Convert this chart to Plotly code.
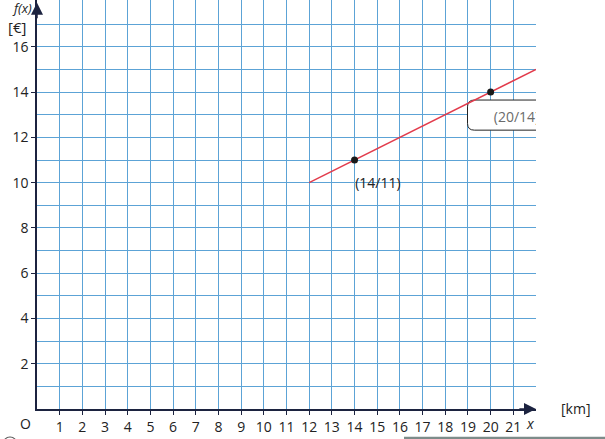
import plotly.graph_objects as go

# data
line_x = [12, 22]
line_y = [10, 15]
point_x = [14, 20]
point_y = [11, 14]
point_labels = ["(14/11)", "(20/14)"]
x_ticks = list(range(1, 22))
y_ticks_major = [2, 4, 6, 8, 10, 12, 14, 16]
y_ticks_minor = [1, 3, 5, 7, 9, 11, 13, 15, 17]

GRID = "rgb(92,163,214)"
AXIS = "#1c2340"
FONT = "Open Sans"

fig = go.Figure()

# red function line
fig.add_trace(go.Scatter(x=line_x, y=line_y, mode="lines",
                         line=dict(color="#e23a4b", width=1.5),
                         hoverinfo="skip", showlegend=False))
# points
fig.add_trace(go.Scatter(x=point_x, y=point_y, mode="markers",
                         marker=dict(color="#1a1a1a", size=7),
                         hoverinfo="skip", showlegend=False))
# label (14/11) below-right of its point
fig.add_trace(go.Scatter(x=[point_x[0] + 0.03], y=[point_y[0] - 1.09], mode="text",
                         text=[point_labels[0]], textposition="middle right",
                         textfont=dict(family=FONT, size=14, color="#222222"),
                         hoverinfo="skip", showlegend=False))
# label (20/14) inside the callout box (clipped by plot area)
fig.add_trace(go.Scatter(x=[point_x[1] + 0.14], y=[point_y[1] - 1.18], mode="text",
                         text=[point_labels[1]], textposition="middle right",
                         textfont=dict(family=FONT, size=14, color="#6b6b6b"),
                         cliponaxis=True, hoverinfo="skip", showlegend=False))

# callout box with rounded left corners (data coords, clipped)
x0, x1, y0, y1 = 18.98, 23.0, 12.32, 13.65
rx, ry = 0.3, 0.3
path = (f"M {x0+rx},{y1} L {x1},{y1} L {x1},{y0} L {x0+rx},{y0} "
        f"Q {x0},{y0} {x0},{y0+ry} L {x0},{y1-ry} Q {x0},{y1} {x0+rx},{y1} Z")
fig.add_shape(type="path", path=path, xref="x", yref="y", layer="between",
              fillcolor="white", line=dict(color="#222222", width=1))

# bottom gray decoration line
fig.add_shape(type="line", xref="paper", yref="paper",
              x0=(404 - 37) / 499, x1=(605 - 37) / 499,
              y0=(409 - 438) / 409, y1=(409 - 438) / 409,
              line=dict(color="#7d8c8a", width=2.5))
fig.add_shape(type="circle", xref="paper", yref="paper",
              x0=(3 - 37) / 499, x1=(17 - 37) / 499,
              y0=(409 - 451) / 409, y1=(409 - 437) / 409,
              line=dict(color="#555555", width=1.2))

annotations = [
    # axis arrows
    dict(x=22, y=0, ax=21.2, ay=0, xref="x", yref="y", axref="x", ayref="y",
         showarrow=True, arrowhead=2, arrowsize=1.6, arrowwidth=1.5,
         arrowcolor=AXIS, text=""),
    dict(x=0, y=17.95, ax=0, ay=17.2, xref="x", yref="y", axref="x", ayref="y",
         showarrow=True, arrowhead=2, arrowsize=1.6, arrowwidth=1.5,
         arrowcolor=AXIS, text=""),
    # labels
    dict(x=0, y=0, xref="x", yref="y", text="O", showarrow=False,
         xanchor="right", yanchor="middle", xshift=-4, yshift=-14,
         font=dict(family=FONT, size=14, color="#222222")),
    dict(x=0, y=17.72, xref="x", yref="y", text="<i>f(x)</i>", showarrow=False,
         xanchor="right", yanchor="middle", xshift=-3,
         font=dict(family=FONT, size=13, color="#222222")),
    dict(x=0, y=16.86, xref="x", yref="y", text="[€]", showarrow=False,
         xanchor="right", yanchor="middle", xshift=-9,
         font=dict(family=FONT, size=15, color="#222222")),
    dict(x=21.75, y=0, xref="x", yref="y", text="<i>x</i>", showarrow=False,
         xanchor="center", yanchor="middle", yshift=-14,
         font=dict(family=FONT, size=14, color="#222222")),
    dict(x=(575 - 37) / 499, y=0, xref="paper", yref="y", text="[km]", showarrow=False,
         xanchor="center", yanchor="middle", yshift=1,
         font=dict(family=FONT, size=14, color="#222222")),
]

fig.update_layout(
    width=605, height=439,
    margin=dict(l=37, r=69, t=0, b=30, pad=0),
    paper_bgcolor="white", plot_bgcolor="white",
    font=dict(family=FONT, size=14, color="#222222"),
    annotations=annotations,
    showlegend=False,
)
fig.update_xaxes(
    range=[0, 22], tickvals=x_ticks, ticktext=[str(v) for v in x_ticks],
    showgrid=True, gridcolor=GRID, gridwidth=1,
    ticks="outside", ticklen=4, tickcolor=AXIS, tickwidth=1,
    showline=True, linecolor=AXIS, linewidth=1.5, zeroline=False,
    tickfont=dict(family=FONT, size=14, color="#222222"),
)
fig.update_yaxes(
    range=[0, 18.07], tickvals=y_ticks_major, ticktext=[str(v) for v in y_ticks_major],
    showgrid=True, gridcolor=GRID, gridwidth=1,
    minor=dict(tickvals=y_ticks_minor, showgrid=True, gridcolor=GRID, gridwidth=1, ticks=""),
    ticks="outside", ticklen=4, tickcolor=AXIS, tickwidth=1,
    showline=True, linecolor=AXIS, linewidth=1.5, zeroline=False,
    tickfont=dict(family=FONT, size=14, color="#222222"),
)

fig.write_html("out.html", config={"displayModeBar": False},
               post_script="document.body.style.margin='0';document.body.style.overflow='hidden';")
